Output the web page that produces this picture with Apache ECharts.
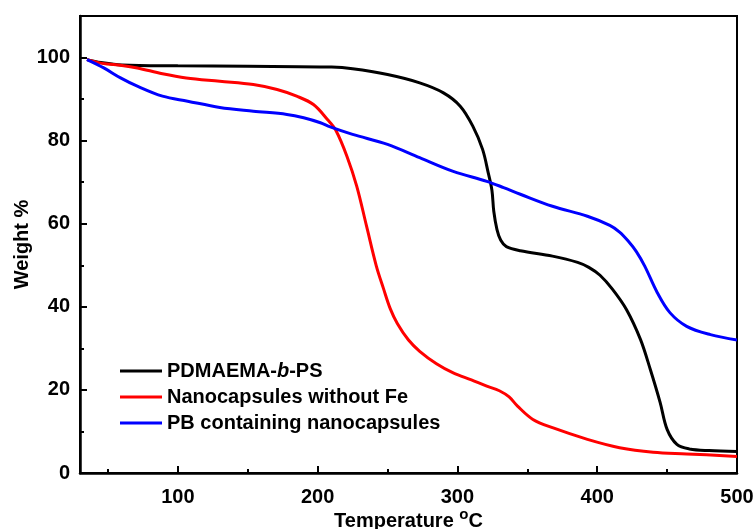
<!DOCTYPE html>
<html>
<head>
<meta charset="utf-8">
<script src="https://cdn.jsdelivr.net/npm/echarts@6/dist/echarts.min.js"></script>
<style>html,body{margin:0;padding:0;background:#fff}#c{width:754px;height:529px}</style>
</head>
<body>
<div id="c"></div>
<script>
var seriesNames = ['PDMAEMA-b-PS', 'Nanocapsules without Fe', 'PB containing nanocapsules'];
var xTickLabels = [100, 200, 300, 400, 500];
var xMinorTicks = [50, 150, 250, 350, 450];
var yTickLabels = [0, 20, 40, 60, 80, 100];
var yMinorTicks = [10, 30, 50, 70, 90];

var tempBlack = [35, 45, 60, 100, 150, 210, 225, 250, 273, 290, 302, 311, 318, 322, 324.7, 326, 328.3, 331, 335, 345, 368, 386, 394, 402, 411, 421, 431, 438, 445, 450, 457, 466, 480, 500];
var weightBlack = [99.5, 98.8, 98.2, 98.0, 97.9, 97.7, 97.3, 95.9, 93.9, 91.5, 88.3, 83.5, 77.9, 72.3, 68, 63, 58.6, 56, 54.5, 53.5, 52.2, 50.7, 49.5, 47.6, 44.2, 39.3, 32.1, 24.9, 17, 10.5, 6.9, 5.8, 5.4, 5.2];

var tempRed = [35, 46, 60, 71, 89, 106, 130, 154, 171, 185, 197, 207, 213, 221, 228, 235, 242, 247, 252, 257, 265, 273, 285, 297, 310, 321, 330, 337, 343, 354, 368, 393, 416, 440, 464, 500];
var weightRed = [99.5, 98.6, 98.1, 97.5, 96.1, 95.1, 94.3, 93.5, 92.3, 90.7, 88.7, 85.1, 82.5, 76.2, 69, 59.4, 49.8, 44.5, 39.5, 36, 32, 29.3, 26.3, 24.1, 22.4, 20.9, 19.8, 18.3, 16.1, 12.9, 10.9, 8.1, 6.1, 5.0, 4.6, 4.0];

var tempBlue = [35, 47, 59, 71, 89, 107, 130, 154, 178, 190, 202, 209, 225, 250, 273, 297, 321, 333, 345, 368, 393, 409, 416, 422, 428, 434, 443, 452, 464, 481, 500];
var weightBlue = [99.5, 97.5, 95.1, 93.1, 90.7, 89.5, 88.0, 87.1, 86.3, 85.5, 84.3, 83.3, 81.5, 79.1, 75.9, 72.6, 70.2, 68.7, 67.1, 64.2, 61.8, 59.6, 58.0, 55.9, 53.3, 49.8, 43.4, 38.6, 35.3, 33.3, 32.0];

function zip(a, b) { return a.map(function (v, i) { return [v, b[i]]; }); }

var FONT = 'Arial, "Liberation Sans", sans-serif';
var chart = echarts.init(document.getElementById('c'), null, { renderer: 'canvas' });

function mkSeries(name, t, w, color) {
  return {
    name: name, type: 'line', data: zip(t, w), showSymbol: false, symbol: 'none',
    smooth: 0.35,
    lineStyle: { color: color, width: 3 }, itemStyle: { color: color },
    xAxisIndex: 0, yAxisIndex: 0, animation: false
  };
}

chart.setOption({
  animation: false,
  backgroundColor: '#fff',
  grid: { left: 80, right: 17, top: 16, bottom: 56, show: true, borderColor: '#000', borderWidth: 2, backgroundColor: 'transparent', outerBoundsMode: 'none', containLabel: false },
  legend: {
    orient: 'vertical', left: 115, top: 356, itemWidth: 42, itemHeight: 3, itemGap: 6,
    icon: 'rect',
    data: seriesNames,
    formatter: function (n) { return n === 'PDMAEMA-b-PS' ? 'PDMAEMA-{i|b}-PS' : n; },
    textStyle: { fontFamily: FONT, fontWeight: 'bold', fontSize: 20, color: '#000',
      rich: { i: { fontFamily: FONT, fontWeight: 'bold', fontStyle: 'italic', fontSize: 20, color: '#000' } } }
  },
  xAxis: [{
    type: 'value', min: 30, max: 500, position: 'bottom',
    name: '{a|Temperature }{s|o}{a|C}', nameLocation: 'middle', nameGap: 34, nameMoveOverlap: false,
    nameTextStyle: { rich: {
      a: { fontFamily: FONT, fontWeight: 'bold', fontSize: 20, color: '#000' },
      s: { fontFamily: FONT, fontWeight: 'bold', fontSize: 15, color: '#000', padding: [0, 0, 14, 0] }
    } },
    axisLine: { show: true, lineStyle: { color: '#000', width: 2.5 } },
    axisTick: { show: true, inside: true, length: 7, lineStyle: { color: '#000', width: 2 }, customValues: xTickLabels },
    axisLabel: { customValues: xTickLabels, fontFamily: FONT, fontWeight: 'bold', fontSize: 20, color: '#000', margin: 14 },
    splitLine: { show: false }
  }, {
    type: 'value', min: 30, max: 500, position: 'bottom', gridIndex: 0,
    axisLine: { show: false },
    axisTick: { show: true, inside: true, length: 4, lineStyle: { color: '#000', width: 2 }, customValues: xMinorTicks },
    axisLabel: { show: false }, splitLine: { show: false }
  }],
  yAxis: [{
    type: 'value', min: 0, max: 110, position: 'left',
    name: 'Weight %', nameLocation: 'middle', nameGap: 48, nameRotate: 90, nameMoveOverlap: false,
    nameTextStyle: { fontFamily: FONT, fontWeight: 'bold', fontSize: 20, color: '#000' },
    axisLine: { show: true, lineStyle: { color: '#000', width: 2.5 } },
    axisTick: { show: true, inside: true, length: 7, lineStyle: { color: '#000', width: 2 }, customValues: yTickLabels },
    axisLabel: { customValues: yTickLabels, fontFamily: FONT, fontWeight: 'bold', fontSize: 20, color: '#000', margin: 10 },
    splitLine: { show: false }
  }, {
    type: 'value', min: 0, max: 110, position: 'left', gridIndex: 0,
    axisLine: { show: false },
    axisTick: { show: true, inside: true, length: 4, lineStyle: { color: '#000', width: 2 }, customValues: yMinorTicks },
    axisLabel: { show: false }, splitLine: { show: false }
  }],
  series: [
    mkSeries(seriesNames[0], tempBlack, weightBlack, '#000000'),
    mkSeries(seriesNames[1], tempRed, weightRed, '#ff0000'),
    mkSeries(seriesNames[2], tempBlue, weightBlue, '#0000ff')
  ]
});
</script>
</body>
</html>
